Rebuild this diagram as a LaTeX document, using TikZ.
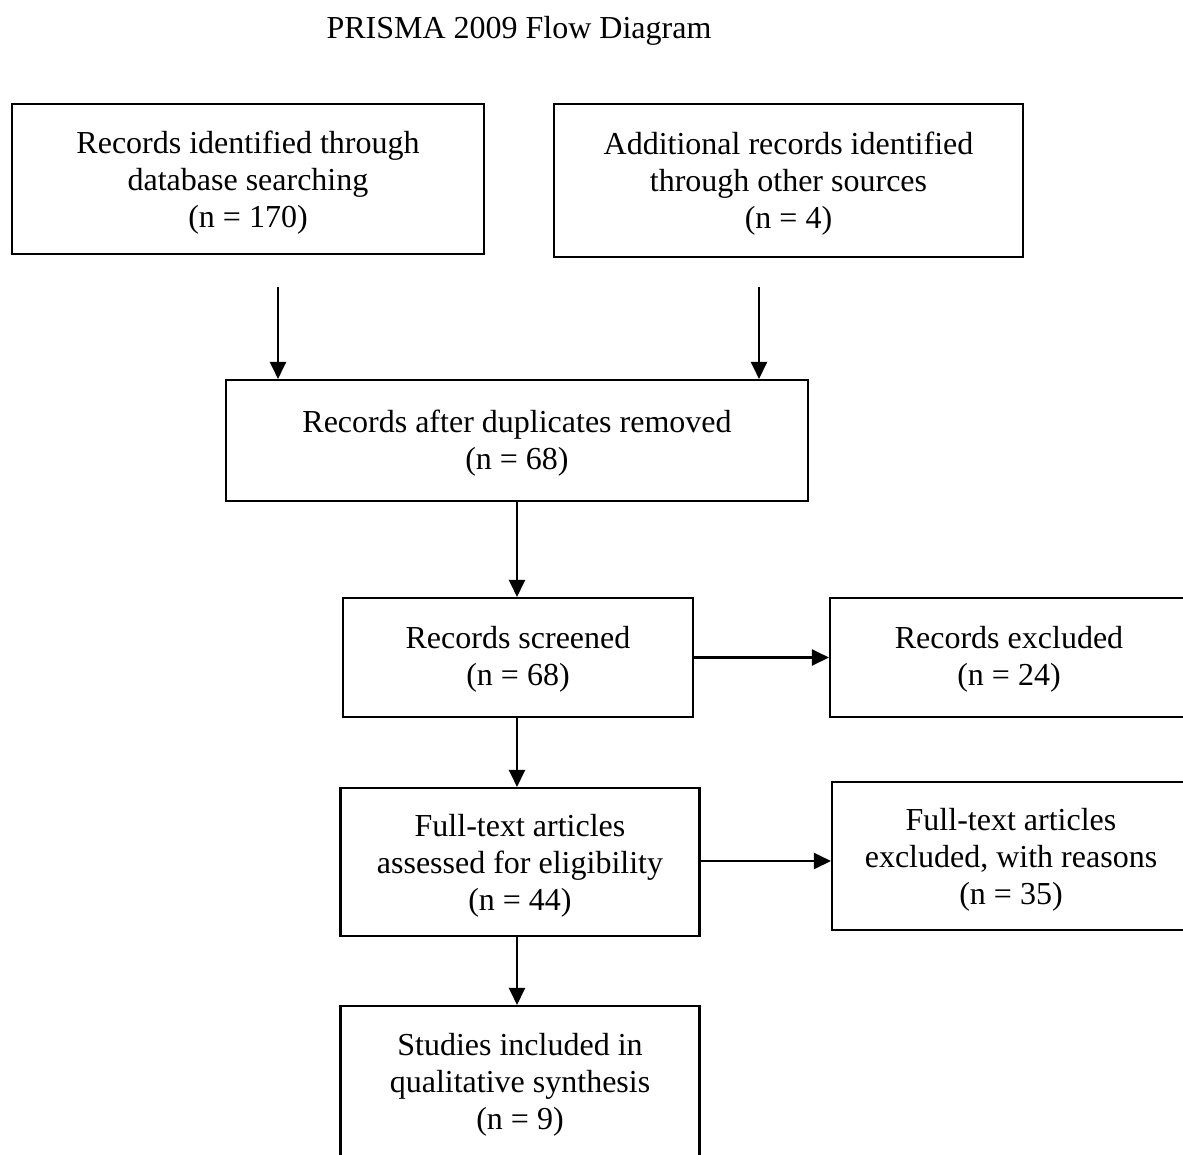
\documentclass[tikz,border=0pt]{standalone}
\usepackage{fontspec}
\setmainfont{Liberation Serif}
\usetikzlibrary{arrows.meta}
\begin{document}
\begin{tikzpicture}[x=1pt,y=-1pt,
  frame/.style={draw, line width=2.1pt, inner sep=0pt},
  txt/.style={inner sep=0pt, align=center, font=\fontsize{32}{37}\selectfont},
  arr/.style={-{Triangle[width=16pt,length=17pt]}, line width=2.2pt},
  ttl/.style={font=\fontsize{32}{37}\selectfont, inner sep=0pt}]
\useasboundingbox (0,0) rectangle (1183,1154);
\clip (0,0) rectangle (1183,1154);
\node[ttl] (T) at (519,31) {PRISMA 2009 Flow Diagram};
\node[frame, minimum width=472pt, minimum height=150pt] (A) at (248,179) {};
\node[txt] (At) at ([yshift=-4pt]A.center) {Records identified through\\database searching\\(n = 170)};
\node[frame, minimum width=469pt, minimum height=153pt] (B) at (788.5,180.5) {};
\node[txt] (Bt) at ([yshift=-3pt]B.center) {Additional records identified\\through other sources\\(n = 4)};
\node[frame, minimum width=582pt, minimum height=121pt] (C) at (517,440.5) {};
\node[txt] (Ct) at ([yshift=-3pt]C.center) {Records after duplicates removed\\(n = 68)};
\node[frame, minimum width=350pt, minimum height=119pt] (D) at (518,657.5) {};
\node[txt] (Dt) at ([yshift=-2pt]D.center) {Records screened\\(n = 68)};
\node[frame, minimum width=358pt, minimum height=119pt] (E) at (1009,657.5) {};
\node[txt] (Et) at ([yshift=-2pt]E.center) {Records excluded\\(n = 24)};
\node[frame, minimum width=359pt, minimum height=148pt] (F) at (520,862) {};
\node[txt] (Ft) at ([yshift=-4pt]F.center) {Full-text articles\\assessed for eligibility\\(n = 44)};
\node[frame, minimum width=358pt, minimum height=148pt] (G) at (1011,856) {};
\node[txt] (Gt) at ([yshift=-4pt]G.center) {Full-text articles\\excluded, with reasons\\(n = 35)};
\node[frame, minimum width=359pt, minimum height=150pt] (H) at (520,1081) {};
\node[txt] (Ht) at ([yshift=-4pt]H.center) {Studies included in\\qualitative synthesis\\(n = 9)};
\coordinate (s1) at (278,287);
\coordinate (s2) at (759,287);
\draw[arr] (s1) -- (s1 |- C.north);
\draw[arr] (s2) -- (s2 |- C.north);
\draw[arr] (C.south) -- (C.south |- D.north);
\draw[arr] (D.east) -- (E.west);
\draw[arr] ([xshift=-1pt]D.south) -- ([xshift=-1pt]D.south |- F.north);
\draw[arr] (F.east |- 0,861) -- (G.west |- 0,861);
\draw[arr] ([xshift=-3pt]F.south) -- ([xshift=-3pt]F.south |- H.north);
\end{tikzpicture}
\end{document}
